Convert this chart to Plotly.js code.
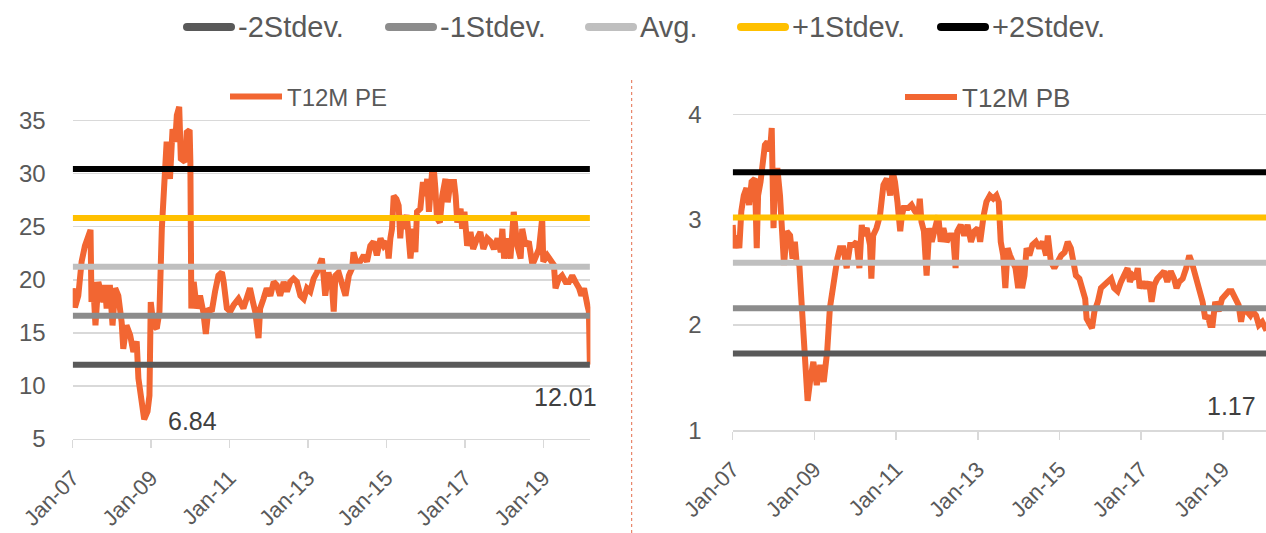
<!DOCTYPE html>
<html>
<head>
<meta charset="utf-8">
<script src="https://cdn.plot.ly/plotly-3.0.1.min.js"></script>
<style>
  html, body { margin: 0; padding: 0; background: #ffffff; overflow: hidden; }
  #chart { width: 1266px; height: 533px; }
</style>
</head>
<body>
<div id="chart"></div>
<script>
// Trailing 12M P/E history
const peDates = [
  '2007-01-01','2007-01-22','2007-02-22','2007-03-25','2007-04-25','2007-05-25','2007-06-16','2007-06-25',
  '2007-07-10','2007-08-01','2007-08-28','2007-09-28','2007-10-13','2007-10-28','2007-11-13','2007-12-13',
  '2008-01-07','2008-02-01','2008-03-01','2008-04-01','2008-04-16','2008-05-16','2008-06-19','2008-07-19',
  '2008-08-19','2008-09-04','2008-10-04','2008-10-28','2008-11-28','2008-12-16','2008-12-28','2009-01-22',
  '2009-02-22','2009-03-19','2009-04-10','2009-05-01','2009-05-25','2009-06-25','2009-07-19','2009-08-13',
  '2009-08-28','2009-09-19','2009-10-04','2009-11-13','2009-11-28','2009-12-25','2010-01-01','2010-01-10',
  '2010-02-01','2010-03-01','2010-04-01','2010-05-01','2010-05-25','2010-06-19','2010-07-19','2010-08-19',
  '2010-09-19','2010-10-22','2010-11-07','2010-12-07','2011-01-07','2011-02-07','2011-03-25','2011-05-10',
  '2011-06-10','2011-07-10','2011-08-07','2011-08-28','2011-09-28','2011-10-13','2011-11-13','2011-12-13',
  '2012-01-16','2012-02-16','2012-03-16','2012-04-16','2012-05-19','2012-06-19','2012-07-19','2012-08-19',
  '2012-09-19','2012-10-22','2012-11-22','2012-12-22','2013-01-22','2013-02-22','2013-03-25','2013-04-25',
  '2013-05-10','2013-05-25','2013-06-10','2013-07-10','2013-08-13','2013-08-28','2013-09-13','2013-10-13',
  '2013-11-13','2013-12-16','2014-01-16','2014-02-16','2014-03-01','2014-04-01','2014-05-01','2014-06-04',
  '2014-07-04','2014-08-04','2014-09-04','2014-10-04','2014-11-07','2014-12-07','2015-01-07','2015-01-22',
  '2015-02-07','2015-02-22','2015-03-10','2015-04-04','2015-04-25','2015-05-10','2015-05-25','2015-06-10',
  '2015-07-10','2015-07-25','2015-08-13','2015-09-07','2015-09-28','2015-10-13','2015-11-13','2015-12-07',
  '2015-12-28','2016-01-16','2016-02-01','2016-03-01','2016-03-16','2016-04-01','2016-04-16','2016-05-13',
  '2016-06-04','2016-07-04','2016-07-25','2016-08-19','2016-09-22','2016-10-07','2016-10-22','2016-11-22',
  '2016-12-07','2016-12-28','2017-01-22','2017-02-22','2017-03-19','2017-04-25','2017-05-25','2017-06-22',
  '2017-07-28','2017-08-28','2017-09-28','2017-11-01','2017-12-01','2017-12-16','2018-01-01','2018-02-01',
  '2018-03-01','2018-04-01','2018-05-04','2018-06-04','2018-06-19','2018-07-19','2018-08-19','2018-09-22',
  '2018-10-22','2018-11-22','2018-12-22','2019-01-01','2019-02-07','2019-03-10','2019-04-10','2019-04-25',
  '2019-05-25','2019-06-25','2019-07-28','2019-08-28','2019-09-28','2019-10-28','2019-12-01','2019-12-22',
  '2020-01-16','2020-02-16','2020-03-01','2020-03-10'
];
const peValues = [
  19.2,17.4,18.5,21.7,23.2,23.9,24.7,17.9,
  19.8,15.7,19.8,18.5,17.9,19.5,17.3,19.5,
  15.7,19.2,18.5,16.0,13.5,15.7,14.8,13.2,
  14.2,10.7,8.5,6.84,7.6,9.1,17.9,15.7,
  15.4,17.0,24.8,29.5,33.0,29.5,34.2,33.0,
  35.5,36.3,31.4,31.1,33.9,34.1,31.1,17.3,
  19.8,17.3,18.5,17.0,14.9,17.3,17.0,18.9,
  20.4,20.7,19.8,17.3,17.0,17.6,18.2,17.3,
  18.2,19.2,17.9,17.0,14.5,17.3,18.2,19.2,
  18.5,19.8,19.5,18.5,19.8,18.9,19.8,20.1,
  19.8,18.5,18.2,19.2,18.9,20.1,20.7,21.7,
  22.0,20.4,18.5,20.7,19.2,17.0,20.4,20.7,
  19.8,18.5,20.4,21.1,22.6,21.4,21.7,22.3,
  21.7,23.2,23.6,22.3,23.9,23.2,23.6,22.0,
  23.9,24.8,27.9,27.6,27.0,23.9,26.1,24.8,
  26.1,23.6,22.0,24.8,22.6,26.4,26.7,29.2,
  27.9,29.5,26.4,30.1,30.6,28.6,25.8,25.4,
  27.9,29.5,27.3,29.2,29.2,27.9,25.4,26.7,
  24.8,26.4,23.2,24.5,22.9,23.9,24.5,22.9,
  23.9,23.6,22.9,23.9,22.6,24.8,22.0,23.9,
  22.0,26.4,23.2,22.0,24.8,23.2,23.6,21.4,
  22.3,22.9,25.8,21.7,22.3,21.7,21.4,19.2,
  20.1,20.4,19.8,19.8,20.4,19.8,19.2,18.5,
  19.2,17.6,17.0,12.01
];

// Trailing 12M P/B history
const pbDates = [
  '2007-01-01','2007-01-13','2007-02-07','2007-03-01','2007-03-19','2007-04-10','2007-05-04','2007-05-28',
  '2007-06-19','2007-07-19','2007-08-04','2007-08-16','2007-09-07','2007-09-25','2007-10-16','2007-11-07',
  '2007-12-01','2007-12-16','2008-01-01','2008-01-13','2008-02-04','2008-02-28','2008-03-22','2008-04-04',
  '2008-04-28','2008-05-28','2008-06-19','2008-07-10','2008-07-25','2008-08-19','2008-09-04','2008-09-19',
  '2008-10-10','2008-11-01','2008-11-22','2008-12-22','2009-01-22','2009-02-22','2009-03-25','2009-04-25',
  '2009-05-19','2009-06-13','2009-07-04','2009-07-25','2009-08-16','2009-09-16','2009-10-16','2009-11-16',
  '2009-12-16','2010-01-13','2010-02-07','2010-02-28','2010-03-13','2010-04-13','2010-05-13','2010-05-25',
  '2010-06-10','2010-07-10','2010-08-10','2010-09-10','2010-10-10','2010-11-10','2010-12-01','2010-12-22',
  '2011-01-13','2011-02-07','2011-02-22','2011-03-10','2011-04-19','2011-05-19','2011-06-19','2011-07-19',
  '2011-08-01','2011-08-16','2011-09-07','2011-10-01','2011-10-25','2011-11-16','2011-12-16','2012-01-13',
  '2012-02-04','2012-02-28','2012-03-28','2012-04-28','2012-05-25','2012-06-16','2012-07-01','2012-08-01',
  '2012-09-01','2012-10-01','2012-11-01','2012-12-01','2013-01-01','2013-01-22','2013-02-22','2013-03-19',
  '2013-04-19','2013-05-19','2013-06-16','2013-07-07','2013-07-25','2013-08-16','2013-09-04','2013-09-25',
  '2013-10-16','2013-11-10','2013-12-04','2013-12-28','2014-01-13','2014-02-01','2014-02-22','2014-03-13',
  '2014-04-07','2014-05-04','2014-06-04','2014-07-04','2014-08-04','2014-09-04','2014-09-19','2014-10-16',
  '2014-11-16','2014-12-16','2015-01-16','2015-02-16','2015-03-16','2015-04-13','2015-05-04','2015-05-28',
  '2015-06-28','2015-07-25','2015-08-19','2015-09-01','2015-09-25','2015-10-19','2015-11-10','2015-12-10',
  '2016-01-07','2016-02-07','2016-03-07','2016-04-07','2016-05-04','2016-06-04','2016-07-04','2016-08-04',
  '2016-09-01','2016-09-22','2016-10-16','2016-11-10','2016-12-01','2016-12-19','2017-01-16','2017-02-13',
  '2017-03-13','2017-04-04','2017-04-28','2017-05-25','2017-06-25','2017-07-25','2017-08-22','2017-09-22',
  '2017-10-22','2017-11-13','2017-12-07','2018-01-07','2018-02-07','2018-03-07','2018-03-28','2018-04-19',
  '2018-05-10','2018-06-04','2018-07-04','2018-07-28','2018-08-19','2018-09-10','2018-10-01','2018-10-25',
  '2018-11-25','2018-12-25','2019-01-25','2019-02-22','2019-03-22','2019-04-22','2019-05-22','2019-06-13',
  '2019-07-04','2019-08-04','2019-09-04','2019-09-25','2019-10-25','2019-11-19','2019-12-19','2020-01-16',
  '2020-02-19','2020-03-10'
];
const pbValues = [
  2.95,2.73,2.85,2.73,3.08,3.23,3.30,3.14,
  3.36,3.39,2.73,3.23,3.36,3.55,3.71,3.74,
  3.65,3.87,2.92,3.36,3.49,3.23,2.85,2.57,
  2.89,2.85,2.63,2.79,2.60,2.57,2.28,2.03,
  1.68,1.28,1.46,1.65,1.43,1.62,1.46,1.75,
  2.16,2.35,2.51,2.63,2.73,2.73,2.54,2.76,
  2.76,2.79,2.54,2.95,2.85,2.92,2.76,2.44,
  2.85,2.92,3.04,3.33,3.39,3.23,3.46,3.36,
  3.17,2.89,3.04,3.11,3.11,3.14,3.08,3.04,
  3.20,2.98,2.89,2.47,2.92,2.79,2.92,3.04,
  2.79,2.92,2.79,2.85,2.85,2.54,2.89,2.95,
  2.85,2.95,2.79,2.89,2.92,2.79,3.04,3.17,
  3.23,3.20,3.23,3.17,2.79,2.66,2.35,2.73,
  2.66,2.60,2.54,2.35,2.57,2.35,2.47,2.73,
  2.66,2.76,2.79,2.73,2.79,2.66,2.85,2.60,
  2.54,2.60,2.66,2.69,2.79,2.73,2.63,2.47,
  2.44,2.35,2.25,2.06,2.00,1.97,2.13,2.22,
  2.35,2.38,2.41,2.44,2.35,2.32,2.41,2.47,
  2.54,2.41,2.47,2.44,2.54,2.35,2.41,2.35,
  2.41,2.22,2.38,2.44,2.47,2.51,2.41,2.51,
  2.44,2.35,2.41,2.44,2.54,2.66,2.60,2.51,
  2.41,2.32,2.22,2.06,2.09,2.00,2.00,2.22,
  2.13,2.25,2.28,2.32,2.32,2.25,2.19,2.03,
  2.16,2.13,2.09,2.13,2.09,2.00,2.03,1.97,
  1.98,1.17
];

// Mean and +/- 1, 2 standard deviation bands
const bandNames = ['-2Stdev.', '-1Stdev.', 'Avg.', '+1Stdev.', '+2Stdev.'];
const peBands = [12.00, 16.61, 21.22, 25.83, 30.44];
const pbBands = [1.73, 2.16, 2.59, 3.02, 3.45];
const bandColors = ['#595959', '#8c8c8c', '#bfbfbf', '#ffc000', '#000000'];

const SERIES_COLOR = '#f26632';
const TEXT_COLOR = '#595959';
const GRID_COLOR = '#d9d9d9';
const FONT = 'Liberation Sans, Arial, sans-serif';
const FIG_W = 1266, FIG_H = 533;

const traces = [];
traces.push({
  x: peDates, y: peValues, type: 'scatter', mode: 'lines', name: 'T12M PE',
  xaxis: 'x', yaxis: 'y', legend: 'legend2',
  line: { color: SERIES_COLOR, width: 6 }
});
traces.push({
  x: pbDates, y: pbValues, type: 'scatter', mode: 'lines', name: 'T12M PB',
  xaxis: 'x2', yaxis: 'y2', legend: 'legend3',
  line: { color: SERIES_COLOR, width: 6 }
});

const peSpan = [peDates[0], peDates[peDates.length - 1]];
const pbSpan = [pbDates[0], pbDates[pbDates.length - 1]];
bandNames.forEach((name, i) => {
  traces.push({
    x: peSpan, y: [peBands[i], peBands[i]], type: 'scatter', mode: 'lines', name: name,
    xaxis: 'x', yaxis: 'y', showlegend: false,
    line: { color: bandColors[i], width: 6 }
  });
  traces.push({
    x: pbSpan, y: [pbBands[i], pbBands[i]], type: 'scatter', mode: 'lines', name: name,
    xaxis: 'x2', yaxis: 'y2', showlegend: false,
    line: { color: bandColors[i], width: 6 }
  });
});

// Labels for the trough and the latest reading of each series
function lowPoint(dates, vals) {
  let k = 0;
  vals.forEach((v, i) => { if (v < vals[k]) k = i; });
  return { x: dates[k], y: vals[k] };
}
const peLow = lowPoint(peDates, peValues);
const pbLow = lowPoint(pbDates, pbValues);
const peLast = { x: peDates[peDates.length - 1], y: peValues[peValues.length - 1] };
const pbLast = { x: pbDates[pbDates.length - 1], y: pbValues[pbValues.length - 1] };

const labelFont = { family: FONT, size: 25, color: '#404040' };
const annotations = [
  { xref: 'x', yref: 'y', x: peLow.x, y: peLow.y, text: peLow.y.toFixed(2), showarrow: false, xshift: 48, yshift: -2, font: labelFont },
  { xref: 'x', yref: 'y', x: peLast.x, y: peLast.y, text: peLast.y.toFixed(2), showarrow: false, xshift: -24, yshift: -32, font: labelFont },
  { xref: 'x2', yref: 'y2', x: pbLow.x, y: pbLow.y, text: pbLow.y.toFixed(2), showarrow: false, xshift: 48, yshift: -12, font: labelFont },
  // the latest P/B reading falls just past the right edge of the panel; its label sits at the edge
  { xref: 'paper', yref: 'y2', x: 1, xanchor: 'right', y: pbLast.y, text: pbLast.y.toFixed(2), showarrow: false, xshift: -8, yshift: 6, font: labelFont }
];

// Shared band key across the top of the figure
const keyLeft = [183, 385, 585, 737, 937];
const keyY = 1 - 27 / FIG_H;
const shapes = [
  { type: 'line', xref: 'paper', yref: 'paper', x0: 631.7 / FIG_W, x1: 631.7 / FIG_W, y0: 0, y1: 0.855,
    line: { color: '#e46c4a', width: 1, dash: 'dot' } }
];
bandNames.forEach((name, i) => {
  shapes.push({
    type: 'line', xref: 'paper', yref: 'paper',
    x0: (keyLeft[i] + 4) / FIG_W, x1: (keyLeft[i] + 48) / FIG_W, y0: keyY, y1: keyY,
    line: { color: bandColors[i], width: 8 }
  });
  shapes.push({
    type: 'circle', xref: 'paper', yref: 'paper', fillcolor: bandColors[i], line: { width: 0 },
    x0: keyLeft[i] / FIG_W, x1: (keyLeft[i] + 8) / FIG_W, y0: keyY - 4 / FIG_H, y1: keyY + 4 / FIG_H
  });
  shapes.push({
    type: 'circle', xref: 'paper', yref: 'paper', fillcolor: bandColors[i], line: { width: 0 },
    x0: (keyLeft[i] + 44) / FIG_W, x1: (keyLeft[i] + 52) / FIG_W, y0: keyY - 4 / FIG_H, y1: keyY + 4 / FIG_H
  });
  annotations.push({
    xref: 'paper', yref: 'paper', x: (keyLeft[i] + 53) / FIG_W, y: keyY, xanchor: 'left', yanchor: 'middle',
    text: name, showarrow: false, font: { family: FONT, size: 29, color: TEXT_COLOR }
  });
});

const xCommon = {
  type: 'date', tickformat: '%b-%y', dtick: 'M24', tick0: '2007-01-01',
  tickangle: -45, showgrid: false, zeroline: false,
  showline: true, linecolor: GRID_COLOR, linewidth: 1.5,
  ticks: 'outside', ticklen: 8, tickcolor: GRID_COLOR, tickwidth: 1.5,
  ticklabelstandoff: 8,
  tickfont: { family: FONT, size: 22, color: TEXT_COLOR }, fixedrange: true
};
const yCommon = {
  showgrid: true, gridcolor: GRID_COLOR, gridwidth: 1.5, zeroline: false,
  showline: false, ticks: '', ticklabelstandoff: 26,
  tickfont: { family: FONT, size: 24, color: TEXT_COLOR }, fixedrange: true
};

const layout = {
  width: FIG_W, height: FIG_H,
  margin: { l: 0, r: 0, t: 0, b: 0 },
  paper_bgcolor: '#ffffff', plot_bgcolor: '#ffffff',
  showlegend: true,
  xaxis: Object.assign({}, xCommon, { domain: [72.7 / FIG_W, 590.4 / FIG_W], range: ['2007-01-01', '2020-03-15'], anchor: 'y' }),
  yaxis: Object.assign({}, yCommon, { domain: [0.1764, 0.8236], range: [5, 37.5], dtick: 5, tick0: 5, anchor: 'x' }),
  xaxis2: Object.assign({}, xCommon, { domain: [732.7 / FIG_W, 1], range: ['2007-01-01', '2020-01-22'], anchor: 'y2' }),
  yaxis2: Object.assign({}, yCommon, { domain: [0.1927, 0.815], range: [1, 4.15], dtick: 1, tick0: 1, anchor: 'x2', ticklabelstandoff: 30 }),
  legend2: {
    orientation: 'h', x: 225 / FIG_W, xanchor: 'left', y: 0.818, yanchor: 'middle',
    font: { family: FONT, size: 24, color: TEXT_COLOR }, itemwidth: 52,
    bgcolor: 'rgba(0,0,0,0)'
  },
  legend3: {
    orientation: 'h', x: 900 / FIG_W, xanchor: 'left', y: 0.818, yanchor: 'middle',
    font: { family: FONT, size: 26, color: TEXT_COLOR }, itemwidth: 52,
    bgcolor: 'rgba(0,0,0,0)'
  },
  shapes: shapes,
  annotations: annotations,
  hovermode: false
};

Plotly.newPlot('chart', traces, layout, { displayModeBar: false, staticPlot: true, responsive: false });
</script>
</body>
</html>
